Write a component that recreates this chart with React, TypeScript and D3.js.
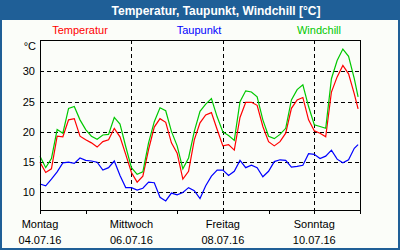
import React from 'react'
import * as d3 from 'd3'

// Messwerte alle 3 Stunden ab Montag 04.07.16 00:00 (letzter Wert 23:00 Sonntag)
const hours = [...d3.range(0, 166, 3), 167]

const temperatur = [
  15.0, 13.3, 13.9, 19.3, 19.2, 22.0, 22.2, 19.3, 18.7, 18.2, 17.5, 18.4, 18.7, 20.6, 19.2,
  16.3, 13.3, 11.7, 12.7, 17.1, 20.8, 22.2, 21.6, 18.2, 16.5, 12.2, 13.5, 18.7, 21.5,
  22.8, 23.2, 20.4, 17.7, 17.9, 17.0, 22.4, 24.9, 24.9, 24.4, 20.9, 18.4, 17.7, 18.4,
  19.8, 23.9, 25.3, 25.7, 22.0, 20.2, 19.8, 19.2, 26.6, 29.1, 31.0, 29.6, 26.3, 23.8,
]

const taupunkt = [
  11.4, 11.1, 12.2, 13.4, 14.9, 15.0, 14.8, 15.7, 15.3, 15.2, 15.0, 13.7, 14.1, 15.2, 12.8,
  10.8, 10.8, 10.4, 10.7, 11.7, 11.6, 9.2, 8.6, 9.9, 9.6, 10.0, 10.8, 10.3, 9.0,
  11.1, 12.7, 13.7, 13.7, 12.8, 13.5, 15.3, 14.1, 14.5, 14.1, 12.6, 13.5, 15.1, 15.4,
  15.3, 14.2, 14.3, 14.5, 16.4, 16.3, 15.6, 16.0, 17.0, 15.5, 14.9, 15.4, 17.3, 17.9,
]

const windchill = [
  16.0, 14.1, 15.6, 20.4, 19.8, 23.9, 24.2, 22.0, 20.4, 19.3, 18.8, 19.5, 19.6, 22.4, 21.3,
  17.6, 14.1, 13.0, 13.4, 18.2, 21.7, 24.0, 23.5, 20.1, 17.7, 13.9, 15.7, 20.1, 23.4,
  24.6, 25.5, 22.5, 20.0, 19.4, 18.6, 25.0, 26.8, 26.6, 25.8, 22.0, 19.3, 18.9, 19.6,
  20.6, 25.3, 27.0, 27.8, 24.2, 21.2, 20.9, 20.6, 28.8, 31.8, 33.7, 32.5, 28.8, 25.8,
]

const yTicks = [10, 15, 20, 25, 30]
const wochentage = ['Sonntag', 'Montag', 'Dienstag', 'Mittwoch', 'Donnerstag', 'Freitag', 'Samstag']
const seriesNames = ['Temperatur', 'Taupunkt', 'Windchill']
const seriesColors = ['#ff0000', '#0000ff', '#00c800']

const start = new Date(2016, 6, 4)
const end = new Date(2016, 6, 11)

const App = () => {
  const width = 400
  const height = 250
  const plot = { left: 40, right: 360, top: 40, bottom: 210 }
  const font = "'Liberation Sans', Arial, sans-serif"

  const xScale = d3.scaleTime().domain([start, end]).range([plot.left, plot.right])
  const yScale = d3.scaleLinear().domain([7.1, 35.2]).range([plot.bottom, plot.top])

  const dates = hours.map((h) => d3.timeHour.offset(start, h))
  const days = d3.timeDay.range(start, d3.timeDay.offset(end, 1))
  const labelDays = days.filter((d, i) => i % 2 === 0 && d < end)
  const fmt = d3.timeFormat('%d.%m.%y')

  const line = d3
    .line<number>()
    .x((d, i) => xScale(dates[i]))
    .y((d) => yScale(d))

  const allSeries = [temperatur, taupunkt, windchill]
  const legendX = [80, 199, 319]

  return (
    <svg
      width={width}
      height={height}
      style={{ position: 'absolute', left: 0, top: 0, fontFamily: font }}
    >
      <rect x={0} y={0} width={width} height={height} fill='#fbfdf9' />
      <rect x={1} y={1} width={width - 2} height={height - 2} fill='none' stroke='#1f5f97' strokeWidth={2} />
      <rect x={0} y={0} width={width} height={20} fill='#1f5f97' />
      <text x={216} y={14.5} fill='#fff' fontSize={12} fontWeight='bold' textAnchor='middle'>
        Temperatur, Taupunkt, Windchill [°C]
      </text>

      {seriesNames.map((name, i) => (
        <text key={name} x={legendX[i]} y={34} fill={seriesColors[i]} fontSize={11} textAnchor='middle'>
          {name}
        </text>
      ))}

      {/* Gitter */}
      <g stroke='#000' strokeDasharray='4,3' shapeRendering='crispEdges'>
        {yTicks.map((t) => (
          <line key={t} x1={plot.left} x2={plot.right} y1={Math.round(yScale(t)) + 0.5} y2={Math.round(yScale(t)) + 0.5} />
        ))}
        {labelDays.slice(1).map((d) => (
          <line key={+d} x1={Math.round(xScale(d)) + 0.5} x2={Math.round(xScale(d)) + 0.5} y1={plot.top} y2={plot.bottom} />
        ))}
      </g>

      {/* Kurven */}
      {allSeries.map((values, i) => (
        <path key={i} d={line(values) || ''} fill='none' stroke={seriesColors[i]} strokeWidth={1.2} />
      ))}

      {/* Rahmen */}
      <rect
        x={plot.left + 0.5}
        y={plot.top + 0.5}
        width={plot.right - plot.left}
        height={plot.bottom - plot.top}
        fill='none'
        stroke='#000'
        shapeRendering='crispEdges'
      />
      <g stroke='#000' shapeRendering='crispEdges'>
        {days.map((d) => (
          <line key={+d} x1={Math.round(xScale(d)) + 0.5} x2={Math.round(xScale(d)) + 0.5} y1={plot.bottom} y2={plot.bottom + 4} />
        ))}
      </g>

      {/* Achsenbeschriftung */}
      <text x={36} y={50} fontSize={11} textAnchor='end' fill='#000'>°C</text>
      {yTicks.map((t) => (
        <text key={t} x={35} y={yScale(t) + 4} fontSize={11} textAnchor='end' fill='#000'>
          {t}
        </text>
      ))}
      {labelDays.map((d) => (
        <g key={+d} fontSize={11} textAnchor='middle' fill='#000'>
          <text x={xScale(d)} y={228}>{wochentage[d.getDay()]}</text>
          <text x={xScale(d)} y={244}>{fmt(d)}</text>
        </g>
      ))}
    </svg>
  )
}

export default App
